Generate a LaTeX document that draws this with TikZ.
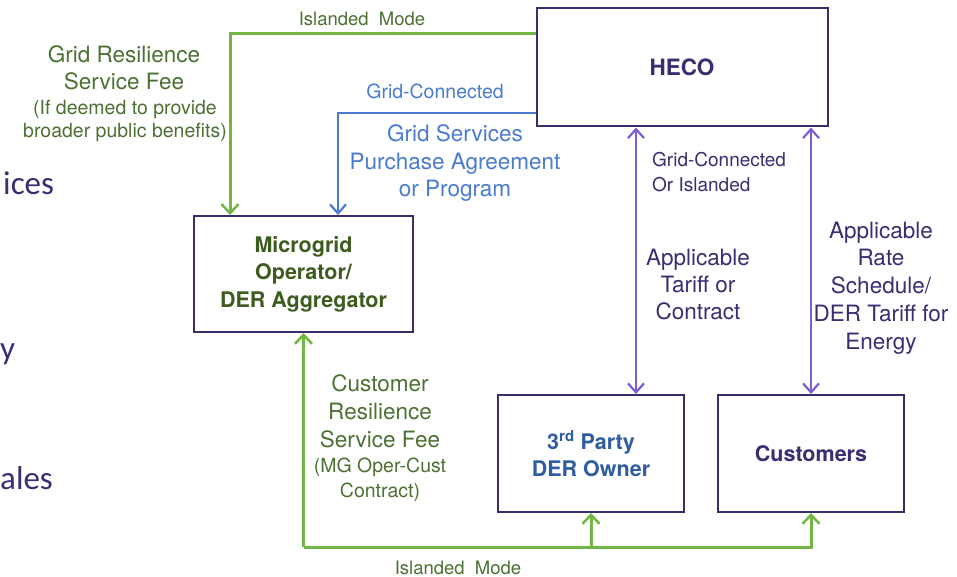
\documentclass[tikz,border=0pt]{standalone}
\usepackage{fontspec}
\setmainfont{TeX Gyre Heros}
\newfontfamily\slidefont{Carlito}
\usetikzlibrary{arrows.meta,positioning}
\definecolor{MgBorder}{HTML}{3A2D6B}
\definecolor{MgGreen}{HTML}{72B743}
\definecolor{MgGreenText}{HTML}{4C7133}
\definecolor{MgGreenDark}{HTML}{3D5C1F}
\definecolor{MgBlue}{HTML}{4A7BD0}
\definecolor{MgBlueDark}{HTML}{2F5DA0}
\definecolor{MgPurple}{HTML}{7E5DD6}
\definecolor{MgPurpleText}{HTML}{3C2C72}
\begin{document}
\begin{tikzpicture}[x=1pt,y=-1pt]
    \tikzset{partybox/.style={draw=MgBorder,line width=2pt,fill=white,align=center,inner sep=0pt,font=\fontsize{21.5}{27.5}\selectfont\bfseries},
      greenline/.style={MgGreen,line width=3pt,-{Straight Barb[length=9pt,width=17pt,line width=2.5pt]}},
      blueline/.style={MgBlue,line width=2.5pt,-{Straight Barb[length=9pt,width=16pt,line width=2.2pt]}},
      purpleline/.style={MgPurple,line width=2.5pt,{Straight Barb[length=9pt,width=16pt,line width=2.2pt]}-{Straight Barb[length=9pt,width=16pt,line width=2.2pt]}},
      biglabel/.style={align=center,inner sep=0pt,font=\fontsize{22.5}{27.5}\selectfont},
      smalllabel/.style={align=center,inner sep=0pt,font=\fontsize{19.5}{23}\selectfont},
      slidetext/.style={anchor=west,inner sep=0pt,text=MgPurpleText,font=\slidefont\fontsize{33}{33}\selectfont}}
    \clip (0,0) rectangle (957,577);
    \fill[white] (0,0) rectangle (957,577);
    \node[slidetext] (frag1) at (3,183) {ices};
    \node[slidetext] (frag2) at (0,354) {y};
    \node[slidetext] (frag3) at (0,478) {ales};
    \node[partybox,minimum width=291pt,minimum height=118pt,text=MgPurpleText,font=\fontsize{22.5}{27}\selectfont\bfseries] (heco) at (682,67.5) {HECO};
    \node[partybox,minimum width=219pt,minimum height=116pt,text=MgGreenDark] (mg) at (303.5,274) {Microgrid\\Operator/\\DER Aggregator};
    \node[partybox,minimum width=186pt,minimum height=117pt,text=MgBlueDark,font=\fontsize{21.5}{27}\selectfont\bfseries] (party) at (591,453.5) {3\textsuperscript{rd} Party\\DER Owner};
    \node[partybox,minimum width=186pt,minimum height=117pt,text=MgPurpleText] (cust) at (811,453.5) {Customers};
    \coordinate (bottomrail) at (303.5,547);
    \draw[greenline] ([yshift=33.5pt]heco.west) -| ([xshift=-73.5pt]mg.north);
    \draw[blueline] ([yshift=-45.5pt]heco.west) -| ([xshift=34.5pt]mg.north);
    \draw[purpleline] ([xshift=-46pt]heco.south) -- ([xshift=-46pt]heco.south |- party.north);
    \draw[purpleline] (heco.south -| cust.north) -- (cust.north);
    \draw[greenline] (bottomrail) -- (mg.south);
    \draw[greenline] (bottomrail) -| (cust.south);
    \draw[greenline] (party.south |- bottomrail) -- (party.south);
    \node[smalllabel,text=MgGreenText,font=\fontsize{18.5}{23}\selectfont] (islandtop) at (362,19) {Islanded\hspace{0.55em}Mode};
    \node[biglabel,text=MgGreenText,anchor=north,font=\fontsize{22.5}{27}\selectfont] (gridfee) at (124,45.5) {Grid Resilience\\Service Fee};
    \node[smalllabel,text=MgGreenText,anchor=north] (gridnote) at (125,100.5) {(If deemed to provide\\broader public benefits)};
    \node[smalllabel,text=MgBlue] (gridconn) at (435,91) {Grid-Connected};
    \node[biglabel,text=MgBlue,anchor=north] (gspa) at (455,124.5) {Grid Services\\Purchase Agreement\\or Program};
    \node[smalllabel,text=MgPurpleText,anchor=north west,align=left,font=\fontsize{19}{25}\selectfont] (mode) at (652,152.5) {Grid-Connected\\Or Islanded};
    \node[biglabel,text=MgPurpleText,anchor=north,font=\fontsize{22.5}{27}\selectfont] (tariff) at (698,248.5) {Applicable\\Tariff or\\Contract};
    \node[biglabel,text=MgPurpleText,anchor=north,font=\fontsize{22.5}{27.75}\selectfont] (rate) at (881,221.5) {Applicable\\Rate\\Schedule/\\DER Tariff for\\Energy};
    \node[biglabel,text=MgGreenText,anchor=north,font=\fontsize{22.5}{28}\selectfont] (custfee) at (380,374.5) {Customer\\Resilience\\Service Fee};
    \node[smalllabel,text=MgGreenText,anchor=north,font=\fontsize{19.5}{25}\selectfont] (custnote) at (380,457.5) {(MG Oper-Cust\\Contract)};
    \node[smalllabel,text=MgGreenText,font=\fontsize{18.5}{23}\selectfont] (islandbot) at (458,568) {Islanded\hspace{0.55em}Mode};
  \end{tikzpicture}
\end{document}
